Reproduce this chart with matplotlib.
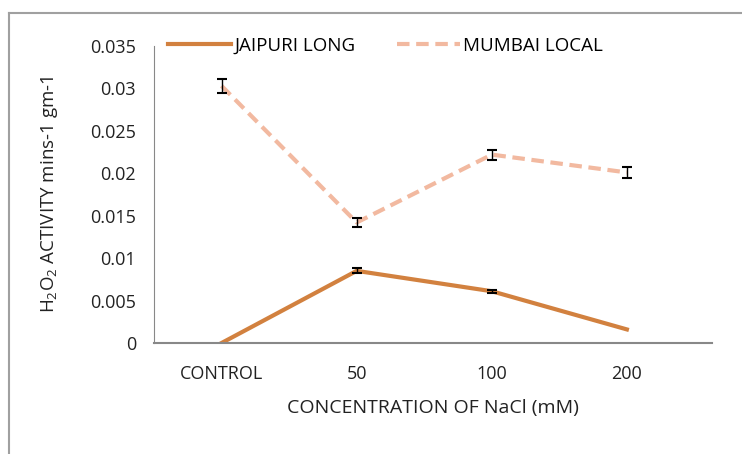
"""
H2O2 activity vs NaCl concentration for two cultivars.
"""

import matplotlib
matplotlib.use('Agg')
import matplotlib.pyplot as plt
from matplotlib.lines import Line2D
import numpy as np

plt.rcParams['font.family'] = ['Open Sans', 'DejaVu Sans']
plt.rcParams['mathtext.default'] = 'regular'

# Data
categories = ['CONTROL', '50', '100', '200']
jaipuri = [0.0, 0.0085, 0.0061, 0.0016]
jaipuri_err = [0.0, 0.0003, 0.0002, 0.0]
mumbai = [0.0303, 0.0142, 0.0222, 0.0201]
mumbai_err = [0.0008, 0.0005, 0.0006, 0.0006]
y_ticks = [0, 0.005, 0.01, 0.015, 0.02, 0.025, 0.03, 0.035]
y_ticklabels = ['0', '0.005', '0.01', '0.015', '0.02', '0.025', '0.03', '0.035']

W, H = 742, 454
fig = plt.figure(figsize=(W / 100, H / 100), dpi=100)

# outer chart frame (left and top edges visible)
fig.add_artist(Line2D([9 / W, 9 / W], [0, 1 - 13 / H], transform=fig.transFigure,
                      color='#a0a0a0', linewidth=1.5))
fig.add_artist(Line2D([9 / W, 1], [1 - 13 / H, 1 - 13 / H], transform=fig.transFigure,
                      color='#a0a0a0', linewidth=1.5))

ax = fig.add_axes([154 / W, 1 - 343 / H, (712 - 154) / W, (343 - 46) / H])
x = np.arange(len(categories))

ax.plot(x, jaipuri, '-', color='#D2813F', linewidth=3, label='JAIPURI LONG')
ax.plot(x, mumbai, '--', color='#F2B9A0', linewidth=3, dashes=(3, 1.6),
        label='MUMBAI LOCAL')

# error bars (only where visible)
ax.errorbar(x[1:3], jaipuri[1:3], yerr=jaipuri_err[1:3], fmt='none',
            ecolor='black', elinewidth=1, capsize=3.5, capthick=1.5)
ax.errorbar(x, mumbai, yerr=mumbai_err, fmt='none',
            ecolor='black', elinewidth=1, capsize=3.5, capthick=1.5)

ax.set_xlim(-0.5, 3.63)
ax.set_ylim(0, 0.035)
ax.set_xticks(x)
ax.set_xticklabels(categories, fontsize=13, color='#222222')
ax.set_yticks(y_ticks)
ax.set_yticklabels(y_ticklabels, fontsize=13, color='#222222')
ax.tick_params(axis='y', length=0, pad=13)
ax.tick_params(axis='x', length=0, pad=16)

for side in ['top', 'right']:
    ax.spines[side].set_visible(False)
ax.spines['left'].set_color('#888888')
ax.spines['bottom'].set_color('#888888')
ax.spines['bottom'].set_linewidth(1.5)

ax.set_xlabel('CONCENTRATION OF NaCl (mM)', fontsize=14, color='#222222',
              labelpad=11)
ax.set_ylabel(r'H$_2$O$_2$ ACTIVITY mins-1 gm-1', fontsize=13.5,
              color='#222222', labelpad=22)

ax.legend(loc='center left', bbox_to_anchor=(0.011, 1.0), ncol=2, frameon=False,
          fontsize=13.5, handlelength=3.4, handletextpad=0.15, columnspacing=2.2,
          borderaxespad=0)

fig.savefig('out.png', dpi=100)
